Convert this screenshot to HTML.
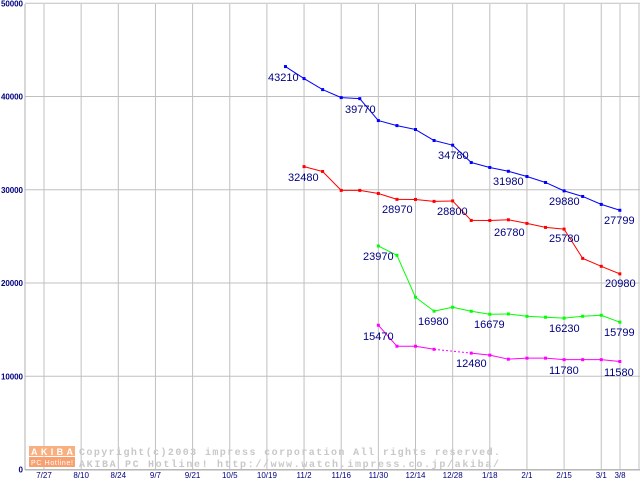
<!DOCTYPE html>
<html><head><meta charset="utf-8"><style>
body{margin:0;background:#fff;width:640px;height:480px;overflow:hidden}
svg{display:block}
</style></head><body>
<svg id="chart" width="640" height="480" xmlns="http://www.w3.org/2000/svg" font-family="Liberation Sans, sans-serif"></svg>
<script>
const dateLabels=["7/27","8/10","8/24","9/7","9/21","10/5","10/19","11/2","11/16","11/30","12/14","12/28","1/18","2/1","2/15","3/1","3/8"];
const yTicks=[0,10000,20000,30000,40000,50000];
const weeks=[13,14,15,16,17,18,19,20,21,22,23,24,25,26,27,28,29,30,31];
const blueVals=[43210,41920,40740,39880,39770,37420,36880,36460,35280,34780,32920,32390,31980,31420,30780,29880,29280,28430,27799];
const redVals=[null,32480,31960,29930,29930,29600,28970,28960,28750,28800,26710,26700,26780,26390,25960,25780,22640,21790,20980];
const greenVals=[null,null,null,null,null,23970,22970,18470,16980,17400,16970,16650,16679,16430,16330,16230,16430,16540,15799];
const magentaVals=[null,null,null,null,null,15470,13220,13220,12890,null,12480,12260,11830,11940,11940,11780,11780,11780,11580];
const blueLabels=[["43210",268,77],["39770",345,109],["34780",438,155],["31980",493,181],["29880",549,201],["27799",604,220]];
const redLabels=[["32480",288,177],["28970",382,209],["28800",437,211],["26780",494,232],["25780",549,238],["20980",605,283]];
const greenLabels=[["23970",363,256],["16980",418,321],["16679",474,324],["16230",549,328],["15799",604,332]];
const magentaLabels=[["15470",363,336],["12480",456,363],["11780",549,370],["11580",604,372]];

const svg=document.getElementById('chart');
const NS='http://www.w3.org/2000/svg';
function yS(v){return 469.5-v*0.009325;}
function xW(w){return 44+w*18.575;}
function xD(i){return i<16?44+i*37.15:620;}
function mk(t,a){const e=document.createElementNS(NS,t);for(const k in a)e.setAttribute(k,a[k]);svg.appendChild(e);return e;}

yTicks.forEach(v=>{
  const l=mk('line',{x1:25,x2:640,y1:yS(v),y2:yS(v),stroke:'#c0c0c0','stroke-width':1});
  
  
  const t=mk('text',{x:23,y:yS(v)+3,'text-anchor':'end','font-size':8,'font-weight':'bold',fill:'#000080',textLength:v===0?5:22});
  t.textContent=String(v);
  
  
});
dateLabels.forEach((d,i)=>{
  const l=mk('line',{x1:xD(i),x2:xD(i),y1:4,y2:470,stroke:'#c0c0c0','stroke-width':1});
  
  
  const t=mk('text',{x:xD(i),y:478,'text-anchor':'middle','font-size':8,fill:'#000080'});
  t.textContent=d;
  
  
});
const r1=mk('line',{x1:639,x2:639,y1:4,y2:470,stroke:'#c0c0c0'});


const ax=mk('line',{x1:25,x2:25,y1:4,y2:470,stroke:'#b0b0b0'});


const bx=mk('line',{x1:25,x2:640,y1:470,y2:470,stroke:'#b0b0b0'});



const wm=mk('rect',{x:29,y:446,width:46,height:10,fill:'#f8b080'});


const wm2=mk('rect',{x:29,y:457,width:46,height:10,fill:'#f8a070'});


const w1=mk('text',{x:31,y:455,'font-size':9,fill:'#fff','font-weight':'bold',textLength:42});w1.textContent='AKIBA';


const w2=mk('text',{x:31,y:465,'font-size':7,fill:'#fff',textLength:42});w2.textContent='PC Hotline!';


const c1=mk('text',{x:79,y:455,'font-size':10,fill:'#c8c8c8','font-family':'Liberation Mono, monospace','font-weight':'bold',textLength:421});c1.textContent='Copyright(c)2003 impress corporation All rights reserved.';


const c2=mk('text',{x:79,y:467,'font-size':10,fill:'#c8c8c8','font-family':'Liberation Mono, monospace','font-weight':'bold',textLength:420});c2.textContent='AKIBA PC Hotline!  http://www.watch.impress.co.jp/akiba/';



function series(vals,color,name,labels){
  let prev=null;
  vals.forEach((v,i)=>{
    if(v===null)return;
    if(prev!==null){
      const gap=i-prev>1;
      const l=mk('line',{x1:xW(weeks[prev]),y1:yS(vals[prev]),x2:xW(weeks[i]),y2:yS(v),stroke:color,'stroke-width':1,'stroke-dasharray':gap?'2,2':'none'});
      
      
    }
    prev=i;
  });
  vals.forEach((v,i)=>{
    if(v===null)return;
    const r=mk('rect',{x:xW(weeks[i])-1.5,y:yS(v)-1.5,width:3,height:3,fill:color});
    
    
  });
  labels.forEach(l=>{
    const t=mk('text',{x:l[1],y:l[2]+4,'font-size':11,fill:'#000080'});
    t.textContent=l[0];
    
    
  });
}
series(blueVals,'#0000ff','blue-series',blueLabels);
series(redVals,'#ff0000','red-series',redLabels);
series(greenVals,'#00ff00','green-series',greenLabels);
series(magentaVals,'#ff00ff','magenta-series',magentaLabels);
</script>
</body></html>
